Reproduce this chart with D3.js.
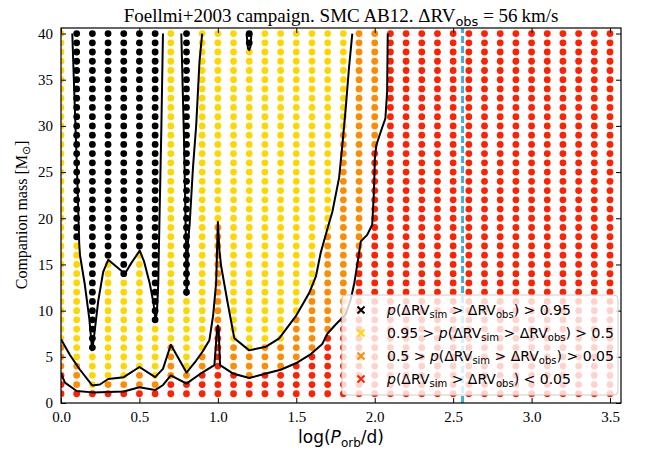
<!DOCTYPE html>
<html><head><meta charset="utf-8">
<script src="https://cdn.jsdelivr.net/npm/d3@7"></script>
<style>body{margin:0;background:#fff}</style>
</head><body>
<svg id="chart" width="654" height="455"></svg>
<script>
// ---- data ----
const logP = [0.0,0.1,0.2,0.3,0.4,0.5,0.6,0.7,0.8,0.9,1.0,1.1,1.2,1.3,1.4,1.5,1.6,1.7,1.8,1.9,2.0,2.1,2.2,2.3,2.4,2.5,2.6,2.7,2.8,2.9,3.0,3.1,3.2,3.3,3.4,3.5];
const masses = [1,2,3,4,5,6,7,8,9,10,11,12,13,14,15,16,17,18,19,20,21,22,23,24,25,26,27,28,29,30,31,32,33,34,35,36,37,38,39,40];
// lowest mass (per column) reaching each probability class
const orangeFrom = [4,2,2,2,2,2,2,3,3,4,9,4,3,4,4,5,6,8,10,17,28,41,41,41,41,41,41,41,41,41,41,41,41,41,41,41];
const yellowFrom = [7,5,2,3,3,4,3,7,4,6,20,7,6,7,7,10,13,19,30,41,41,41,41,41,41,41,41,41,41,41,41,41,41,41,41,41];
const blackFrom  = [41,18,6,16,14,17,9,41,12,41,41,41,39,41,41,41,41,41,41,41,41,41,41,41,41,41,41,41,41,41,41,41,41,41,41,41];
const classColors = ["#ff2200","#ff8c00","#ffd700","#000000"];
const xTicks = [0,0.5,1.0,1.5,2.0,2.5,3.0,3.5];
const yTicks = [0,5,10,15,20,25,30,35,40];
const obsLogP = 2.56;
// contour lines [logP, mass]
const contour95a = [[0.072,40],[0.086,33],[0.0995,26.5],[0.108,22],[0.116,17.3],[0.121,16.0],[0.152,12.8],[0.18,9.2],[0.199,5.7],[0.212,7.4],[0.237,11.0],[0.269,14.2],[0.301,15.5],[0.407,14.0],[0.45,15.2],[0.502,16.5],[0.53,15.3],[0.565,13.0],[0.59,10.8],[0.603,8.8],[0.612,10.0],[0.62,13.0],[0.625,17.5],[0.64,30],[0.65,40]];
const contour95b = [[0.767,40],[0.785,28],[0.797,17],[0.80,11.7],[0.804,12.5],[0.809,17.3],[0.82,19.3],[0.841,25.4],[0.862,30.1],[0.883,37.0],[0.90,40]];
const contour95c = [[1.183,40],[1.192,38.4],[1.20,38.2],[1.208,38.6],[1.214,40]];
const contour50 = [[0,6.9],[0.057,5.2],[0.121,3.6],[0.199,1.9],[0.248,2.0],[0.301,2.6],[0.40,2.8],[0.50,3.9],[0.60,2.8],[0.65,3.7],[0.70,6.3],[0.80,3.3],[0.862,4.6],[0.904,5.6],[0.946,6.8],[0.97,9.5],[0.989,13.0],[1.0,19.6],[1.01,16.5],[1.021,14.8],[1.063,10.8],[1.105,7.0],[1.20,5.7],[1.307,6.1],[1.391,7.0],[1.497,9.4],[1.582,11.9],[1.625,13.7],[1.656,16.3],[1.699,18.9],[1.73,20.7],[1.773,24.4],[1.794,28.0],[1.815,31.9],[1.836,36.3],[1.857,40]];
const contour05 = [[0,3.2],[0.025,2.2],[0.1,1.3],[0.2,1.15],[0.3,1.2],[0.4,1.25],[0.5,1.7],[0.6,1.4],[0.651,1.95],[0.70,3.0],[0.80,2.1],[0.90,3.3],[0.978,4.1],[0.995,8.0],[1.0,8.4],[1.005,8.0],[1.014,4.1],[1.095,3.2],[1.20,2.7],[1.307,3.2],[1.40,3.6],[1.497,4.3],[1.593,5.3],[1.666,6.4],[1.698,7.5],[1.751,8.5],[1.815,9.6],[1.847,11.2],[1.87,13.0],[1.889,15.0],[1.9,16.2],[1.911,17.5],[1.952,18.2],[1.984,19.3],[1.995,22.9],[2.001,26.5],[2.01,27.9],[2.047,29.8],[2.068,30.8],[2.079,33.7],[2.083,40]];
const legendLabels = [
  {pre:"", post:" > 0.95"},
  {pre:"0.95 > ", post:" > 0.5"},
  {pre:"0.5 > ", post:" > 0.05"},
  {pre:"", post:" < 0.05"}
];
const legendClasses = [3,2,1,0];

// ---- drawing ----
const svg = d3.select("#chart");
const L = 61, R = 621, T = 28, B = 403;
const x = d3.scaleLinear().domain([0, 3.57]).range([L, R]);
const y = d3.scaleLinear().domain([0, 40.6]).range([B, T]);
const serif = "'Liberation Serif','Times New Roman',serif";
const sans = "'DejaVu Sans',sans-serif";

svg.append("rect").attr("width",654).attr("height",455).attr("fill","#fff");
svg.append("clipPath").attr("id","clip").append("rect")
  .attr("x",L).attr("y",T).attr("width",R-L).attr("height",B-T);
const plot = svg.append("g").attr("clip-path","url(#clip)");

const pts = [];
logP.forEach((lp,i)=>masses.forEach(m=>{
  const c = m>=blackFrom[i]?3:m>=yellowFrom[i]?2:m>=orangeFrom[i]?1:0;
  pts.push({lp,m,c});
}));
plot.selectAll("circle").data(pts).join("circle")
  .attr("cx",d=>x(d.lp)).attr("cy",d=>y(d.m)).attr("r",3.4)
  .attr("fill",d=>classColors[d.c]);

plot.append("line").attr("x1",x(obsLogP)).attr("x2",x(obsLogP))
  .attr("y1",B).attr("y2",T)
  .attr("stroke","#45aed8").attr("stroke-width",3).attr("stroke-dasharray","7,3");

const line = d3.line().x(d=>x(d[0])).y(d=>y(d[1]));
[contour95a,contour95b,contour95c,contour50,contour05].forEach(c=>{
  plot.append("path").attr("d",line(c)).attr("fill","none")
    .attr("stroke","#000").attr("stroke-width",2).attr("stroke-linejoin","round");
});

// axes
const fmtX = d3.format(".1f");
const gx = svg.append("g").attr("transform",`translate(0,${B})`)
  .call(d3.axisBottom(x).tickValues(xTicks).tickFormat(fmtX).tickSize(-5).tickPadding(8));
const gy = svg.append("g").attr("transform",`translate(${L},0)`)
  .call(d3.axisLeft(y).tickValues(yTicks).tickSize(-5).tickPadding(8));
const gxt = svg.append("g").attr("transform",`translate(0,${T})`)
  .call(d3.axisTop(x).tickValues(xTicks).tickFormat("").tickSize(-5));
const gyr = svg.append("g").attr("transform",`translate(${R},0)`)
  .call(d3.axisRight(y).tickValues(yTicks).tickFormat("").tickSize(-5));
[gx,gy,gxt,gyr].forEach(g=>{
  g.select(".domain").remove();
  g.selectAll("line").attr("stroke","#000").attr("stroke-width",1);
  g.selectAll("text").attr("font-family",serif).attr("font-size",15).attr("fill","#000");
});
svg.append("rect").attr("x",L).attr("y",T).attr("width",R-L).attr("height",B-T)
  .attr("fill","none").attr("stroke","#000").attr("stroke-width",1.2);

// title
const title = svg.append("text").attr("x",(L+R)/2).attr("y",22).attr("text-anchor","middle")
  .attr("font-family",serif).attr("font-size",19);
title.append("tspan").text("Foellmi+2003 campaign. SMC AB12. \u0394RV");
title.append("tspan").attr("font-family",sans).attr("font-size",13).attr("dy",4).text("obs");
title.append("tspan").attr("dy",-4).text(" = 56\u2009km/s");

// x label
const xl = svg.append("text").attr("x",(L+R)/2).attr("y",443).attr("text-anchor","middle")
  .attr("font-family",sans).attr("font-size",17);
xl.append("tspan").text("log(");
xl.append("tspan").attr("font-style","italic").text("P");
xl.append("tspan").attr("font-size",12).attr("dy",4).text("orb");
xl.append("tspan").attr("dy",-4).text("/d)");

// y label
const yl = svg.append("text").attr("transform","translate(27,215) rotate(-90)").attr("text-anchor","middle")
  .attr("font-family",serif).attr("font-size",16);
yl.append("tspan").text("Companion mass [M");
yl.append("tspan").attr("font-size",11).attr("dy",3).text("\u2299");
yl.append("tspan").attr("dy",-3).text("]");

// legend
const lg = svg.append("g");
lg.append("rect").attr("x",342).attr("y",295).attr("width",276).attr("height",100).attr("rx",4)
  .attr("fill","#fff").attr("fill-opacity",0.8).attr("stroke","#cccccc").attr("stroke-width",1);
legendLabels.forEach((lab,k)=>{
  const cy = 310 + k*23;
  const col = classColors[legendClasses[k]];
  lg.append("path").attr("d",`M${361-3.5},${cy-3.5}L${361+3.5},${cy+3.5}M${361-3.5},${cy+3.5}L${361+3.5},${cy-3.5}`)
    .attr("stroke",col).attr("stroke-width",2);
  const t = lg.append("text").attr("x",387).attr("y",cy+5).attr("font-family",sans).attr("font-size",14).attr("fill","#000");
  if(lab.pre) t.append("tspan").text(lab.pre);
  t.append("tspan").attr("font-style","italic").text("p");
  t.append("tspan").text("(\u0394RV");
  t.append("tspan").attr("font-size",10).attr("dy",3).text("sim");
  t.append("tspan").attr("dy",-3).text(" > \u0394RV");
  t.append("tspan").attr("font-size",10).attr("dy",3).text("obs");
  t.append("tspan").attr("dy",-3).text(")"+lab.post);
});
</script>
</body></html>
